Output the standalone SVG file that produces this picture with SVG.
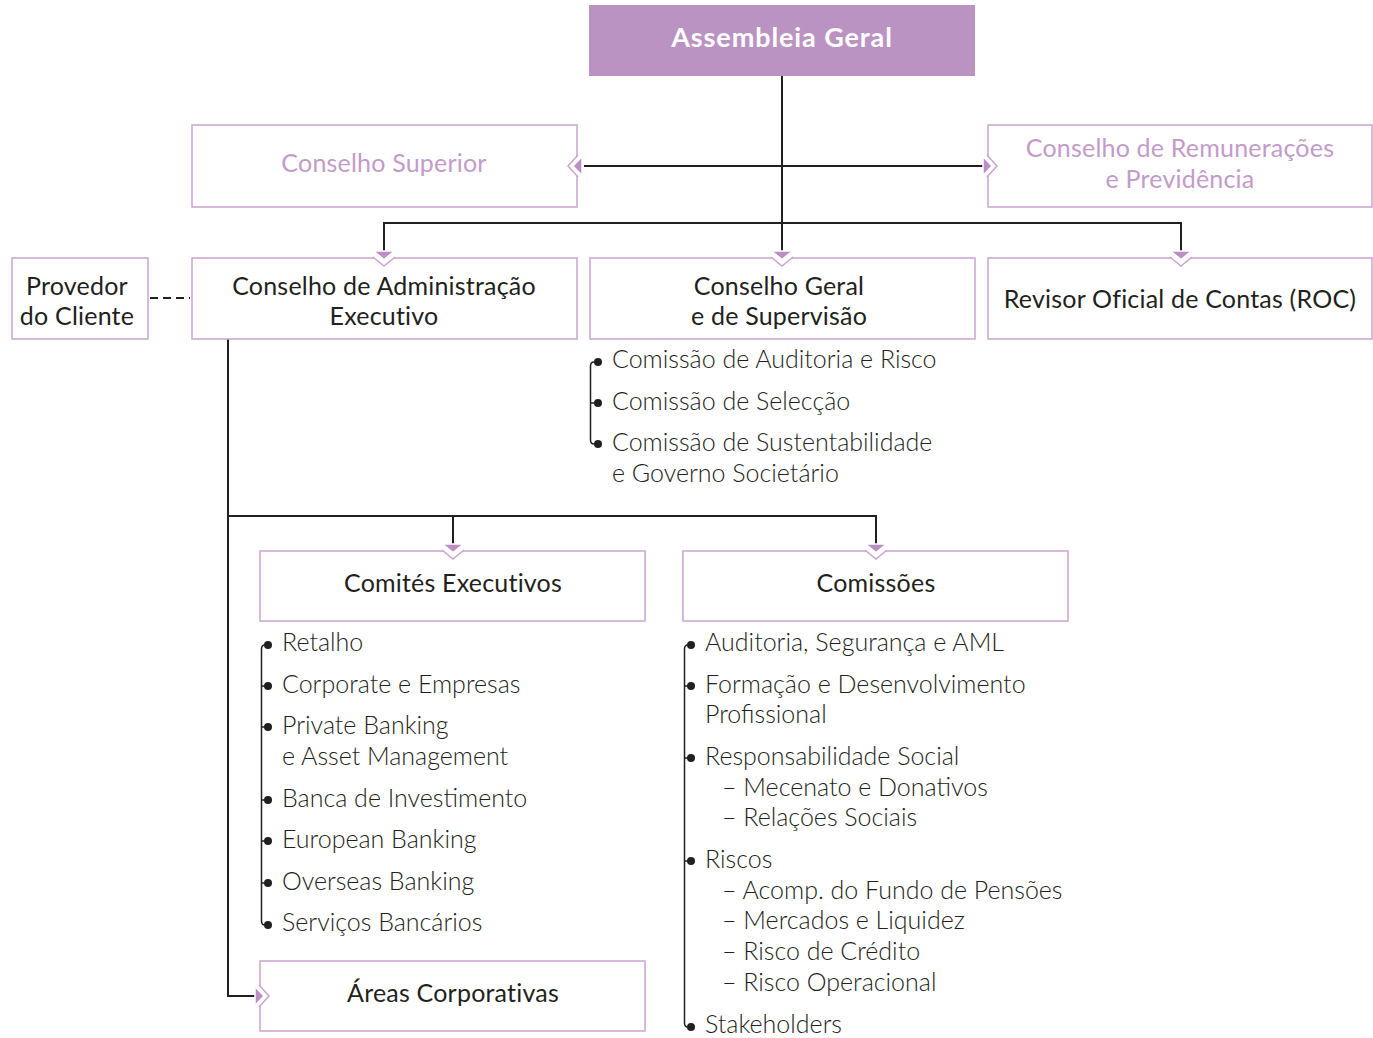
<svg xmlns="http://www.w3.org/2000/svg" width="1373" height="1038" viewBox="0 0 1373 1038">
  <style>
    .box { fill: #ffffff; stroke: #c9a3cf; stroke-width: 1.5; }
    .head { fill: #bb93c3; }
    .t { font-family: Lato, "Open Sans", sans-serif; font-size: 25px; fill: #231f20; }
    .title { text-anchor: middle; letter-spacing: 0.2px; }
    .soft { fill: #c39bcb; }
    .lt { font-weight: 300; }
    .conn { fill: none; stroke: #231f20; stroke-width: 2; }
    .rail { fill: none; stroke: #231f20; stroke-width: 1.5; }
    .dot { fill: #231f20; }
    .chev { fill: #ffffff; stroke: #c9a3cf; stroke-width: 1.5; }
    .tri { fill: #bb8fc4; stroke: #ffffff; stroke-width: 1.5; }
  </style>
  <defs>
    <!-- pointer on a box's top edge (edge at y=0) -->
    <g id="pin-down">
      <path class="chev" d="M-11,-1 L0,8 L11,-1"/>
      <path class="tri" d="M-10.5,-7 L10.5,-7 L0,1.5 Z"/>
    </g>
    <!-- pointer on a box's left edge (edge at x=0), pointing right -->
    <g id="pin-right">
      <path class="chev" d="M-1,-11 L9,0 L-1,11"/>
      <path class="tri" d="M-5,-9.5 L-5,9.5 L4,0 Z"/>
    </g>
    <!-- pointer on a box's right edge (edge at x=0), pointing left -->
    <g id="pin-left">
      <path class="chev" d="M1,-11 L-9,0 L1,11"/>
      <path class="tri" d="M5,-9.5 L5,9.5 L-4,0 Z"/>
    </g>
  </defs>

  <!-- connectors -->
  <g id="connectors">
    <path class="conn" d="M782,76 V252"/>
    <path class="conn" d="M584,166 H983"/>
    <path class="conn" d="M384,252 V223 H1181 V252"/>
    <path class="conn" d="M228,339 V996 H255"/>
    <path class="conn" d="M228,516 H876 V545"/>
    <path class="conn" d="M453,516 V545"/>
    <path class="conn" d="M150,298 H190" stroke-dasharray="8,5"/>
  </g>

  <!-- Assembleia Geral -->
  <g id="assembleia">
    <rect class="head" x="589" y="5" width="386" height="71"/>
    <text class="t" x="782" y="47" text-anchor="middle" style="font-size:27px;font-weight:700;letter-spacing:0.9px;fill:#ffffff">Assembleia Geral</text>
  </g>

  <g id="conselho-superior">
    <rect class="box" x="192" y="125" width="385" height="82"/>
    <text class="t title soft" x="384" y="172">Conselho Superior</text>
  </g>

  <g id="conselho-remuneracoes">
    <rect class="box" x="988" y="125" width="384" height="82"/>
    <text class="t title soft" x="1180" y="157">Conselho de Remunerações</text>
    <text class="t title soft" x="1180" y="188">e Previdência</text>
  </g>

  <g id="provedor">
    <rect class="box" x="12" y="258" width="136" height="81"/>
    <text class="t title" x="77" y="295">Provedor</text>
    <text class="t title" x="77" y="325">do Cliente</text>
  </g>

  <g id="conselho-administracao">
    <rect class="box" x="192" y="258" width="385" height="81"/>
    <text class="t title" x="384" y="295">Conselho de Administração</text>
    <text class="t title" x="384" y="325">Executivo</text>
  </g>

  <g id="conselho-geral">
    <rect class="box" x="590" y="258" width="385" height="81"/>
    <text class="t title" x="779" y="295">Conselho Geral</text>
    <text class="t title" x="779" y="325">e de Supervisão</text>
    <path class="rail" d="M597,362 H594 Q590.5,362 590.5,366 V440 Q590.5,444 594,444 H597"/>
    <path class="rail" d="M590.5,403 H597"/>
    <circle class="dot" cx="598" cy="362" r="4"/>
    <circle class="dot" cx="598" cy="403" r="4"/>
    <circle class="dot" cx="598" cy="444" r="4"/>
    <text class="t lt" x="612" y="368">Comissão de Auditoria e Risco</text>
    <text class="t lt" x="612" y="410">Comissão de Selecção</text>
    <text class="t lt" x="612" y="451">Comissão de Sustentabilidade</text>
    <text class="t lt" x="612" y="482">e Governo Societário</text>
  </g>

  <g id="revisor">
    <rect class="box" x="988" y="258" width="384" height="81"/>
    <text class="t title" x="1180" y="308">Revisor Oficial de Contas (ROC)</text>
  </g>

  <g id="comites">
    <rect class="box" x="260" y="551" width="385" height="70"/>
    <text class="t title" x="453" y="592">Comités Executivos</text>
    <path class="rail" d="M267,645 H265 Q261.5,645 261.5,649 V921 Q261.5,925 265,925 H267"/>
    <path class="rail" d="M261.5,686 H267 M261.5,727 H267 M261.5,800 H267 M261.5,841 H267 M261.5,883 H267"/>
    <circle class="dot" cx="268" cy="645" r="4"/>
    <circle class="dot" cx="268" cy="686" r="4"/>
    <circle class="dot" cx="268" cy="727" r="4"/>
    <circle class="dot" cx="268" cy="800" r="4"/>
    <circle class="dot" cx="268" cy="841" r="4"/>
    <circle class="dot" cx="268" cy="883" r="4"/>
    <circle class="dot" cx="268" cy="925" r="4"/>
    <text class="t lt" x="282" y="651">Retalho</text>
    <text class="t lt" x="282" y="693">Corporate e Empresas</text>
    <text class="t lt" x="282" y="734">Private Banking</text>
    <text class="t lt" x="282" y="765">e Asset Management</text>
    <text class="t lt" x="282" y="807">Banca de Investimento</text>
    <text class="t lt" x="282" y="848">European Banking</text>
    <text class="t lt" x="282" y="890">Overseas Banking</text>
    <text class="t lt" x="282" y="931">Serviços Bancários</text>
  </g>

  <g id="comissoes">
    <rect class="box" x="683" y="551" width="385" height="70"/>
    <text class="t title" x="876" y="592">Comissões</text>
    <path class="rail" d="M690,645 H688 Q684.5,645 684.5,649 V1023 Q684.5,1027 688,1027 H690"/>
    <path class="rail" d="M684.5,686 H690 M684.5,758 H690 M684.5,861 H690"/>
    <circle class="dot" cx="691" cy="645" r="4"/>
    <circle class="dot" cx="691" cy="686" r="4"/>
    <circle class="dot" cx="691" cy="758" r="4"/>
    <circle class="dot" cx="691" cy="861" r="4"/>
    <circle class="dot" cx="691" cy="1027" r="4"/>
    <text class="t lt" x="705" y="651">Auditoria, Segurança e AML</text>
    <text class="t lt" x="705" y="693">Formação e Desenvolvimento</text>
    <text class="t lt" x="705" y="723">Profissional</text>
    <text class="t lt" x="705" y="765">Responsabilidade Social</text>
    <text class="t lt" x="722" y="796">– Mecenato e Donativos</text>
    <text class="t lt" x="722" y="826">– Relações Sociais</text>
    <text class="t lt" x="705" y="868">Riscos</text>
    <text class="t lt" x="722" y="899">– Acomp. do Fundo de Pensões</text>
    <text class="t lt" x="722" y="929">– Mercados e Liquidez</text>
    <text class="t lt" x="722" y="960">– Risco de Crédito</text>
    <text class="t lt" x="722" y="991">– Risco Operacional</text>
    <text class="t lt" x="705" y="1033">Stakeholders</text>
  </g>

  <g id="areas-corporativas">
    <rect class="box" x="260" y="961" width="385" height="70"/>
    <text class="t title" x="453" y="1002">Áreas Corporativas</text>
  </g>

  <!-- pointers on box edges -->
  <g id="pointers">
    <use href="#pin-down" x="384" y="258"/>
    <use href="#pin-down" x="782" y="258"/>
    <use href="#pin-down" x="1181" y="258"/>
    <use href="#pin-down" x="453" y="551"/>
    <use href="#pin-down" x="876" y="551"/>
    <use href="#pin-right" x="260" y="996"/>
    <use href="#pin-right" x="988" y="166"/>
    <use href="#pin-left" x="577" y="166"/>
  </g>
</svg>
